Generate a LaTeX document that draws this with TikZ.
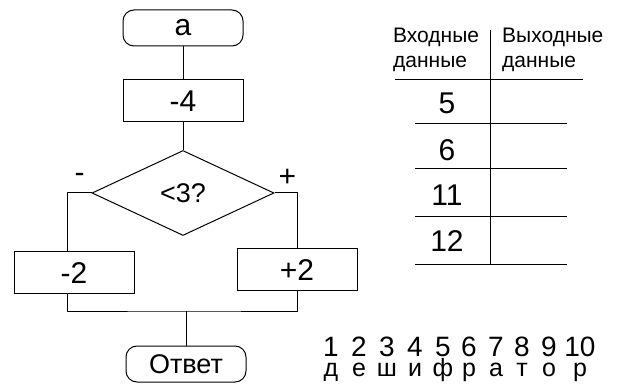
\documentclass[tikz,border=0pt]{standalone}
\usepackage{fontspec}
\setmainfont{Liberation Sans}
\usetikzlibrary{shapes.geometric}

\begin{document}
\begin{tikzpicture}[x=1pt, y=-1pt, font=\fontsize{30}{32}\selectfont]
% Define styles
\tikzstyle{terminal} = [rectangle, rounded corners=11pt, minimum width=120pt, minimum height=36pt, inner sep=0pt, text centered, draw=black, line width=1pt]
\tikzstyle{process} = [rectangle, minimum width=120pt, minimum height=42pt, inner sep=0pt, text centered, draw=black, line width=1pt]
\tikzstyle{decision} = [diamond, minimum width=182pt, minimum height=85pt, inner sep=0pt, text centered, draw=black, line width=1pt]
\tikzstyle{line} = [draw=black, line width=1pt]
\tikzstyle{head} = [anchor=north west, align=left, inner sep=0pt, font=\fontsize{21}{25}\selectfont]
\tikzstyle{digit} = [anchor=base, inner sep=0pt, text height=0.72em, text depth=0pt, font=\fontsize{28}{30}\selectfont]
\tikzstyle{letter} = [anchor=base, inner sep=0pt, text height=0.53em, text depth=0.2em, font=\fontsize{25}{30}\selectfont]

\useasboundingbox (0,0) rectangle (622,385);

% Place nodes
\node [terminal] (start) at (183,28) {a};
\node [process] (minus4) at (183,101) {-4};
\node [decision] (check) at (183,193) {\fontsize{27}{30}\selectfont <3?};
\node [process] (minus2) at (74,273) {-2};
\node [process] (plus2) at (297,270) {+2};
\node [terminal, font=\fontsize{27}{30}\selectfont] (answer) at (186,364) {Ответ};
\node (neg) at ([xshift=-12pt, yshift=15pt]check.west) {-};
\node (pos) at ([xshift=13pt, yshift=15pt]check.east) {+};
\coordinate (join) at (186,311);

% Draw lines
\draw [line] (start) -- (minus4);
\draw [line] (minus4) -- (check);
\draw [line] (check.west) -| ([xshift=-7pt]minus2.north);
\draw [line] (check.east) -| (plus2.north);
\draw [line] ([xshift=-7pt]minus2.south) |- (join) -| (plus2.south);
\draw [line] (join) -- (answer);

% Table
\node [head] (inhead) at (393,28) {Входные\\данные};
\node [head] (outhead) at (502,28) {Выходные\\данные};
\draw [line] (490,30) -- (490,265);
\draw [line] (395,80) -- (583,80);
\foreach \y in {124,169,217,265}
  \draw [line] (415,\y) -- (567,\y);
\foreach \val/\y in {5/103, 6/150, 11/195, 12/241}
  \node (in\val) at (447,\y) {\val};

% Cipher
\foreach \x/\d/\c in {331/1/д, 359/2/е, 387/3/ш, 415/4/и, 443/5/ф, 469/6/р, 496/7/а, 522/8/т, 549/9/о, 580/10/р}
{
  \node [digit] (num\d) at (\x,356) {\d};
  \node [letter] (let\d) at (\x,376) {\c};
}
\end{tikzpicture}
\end{document}
